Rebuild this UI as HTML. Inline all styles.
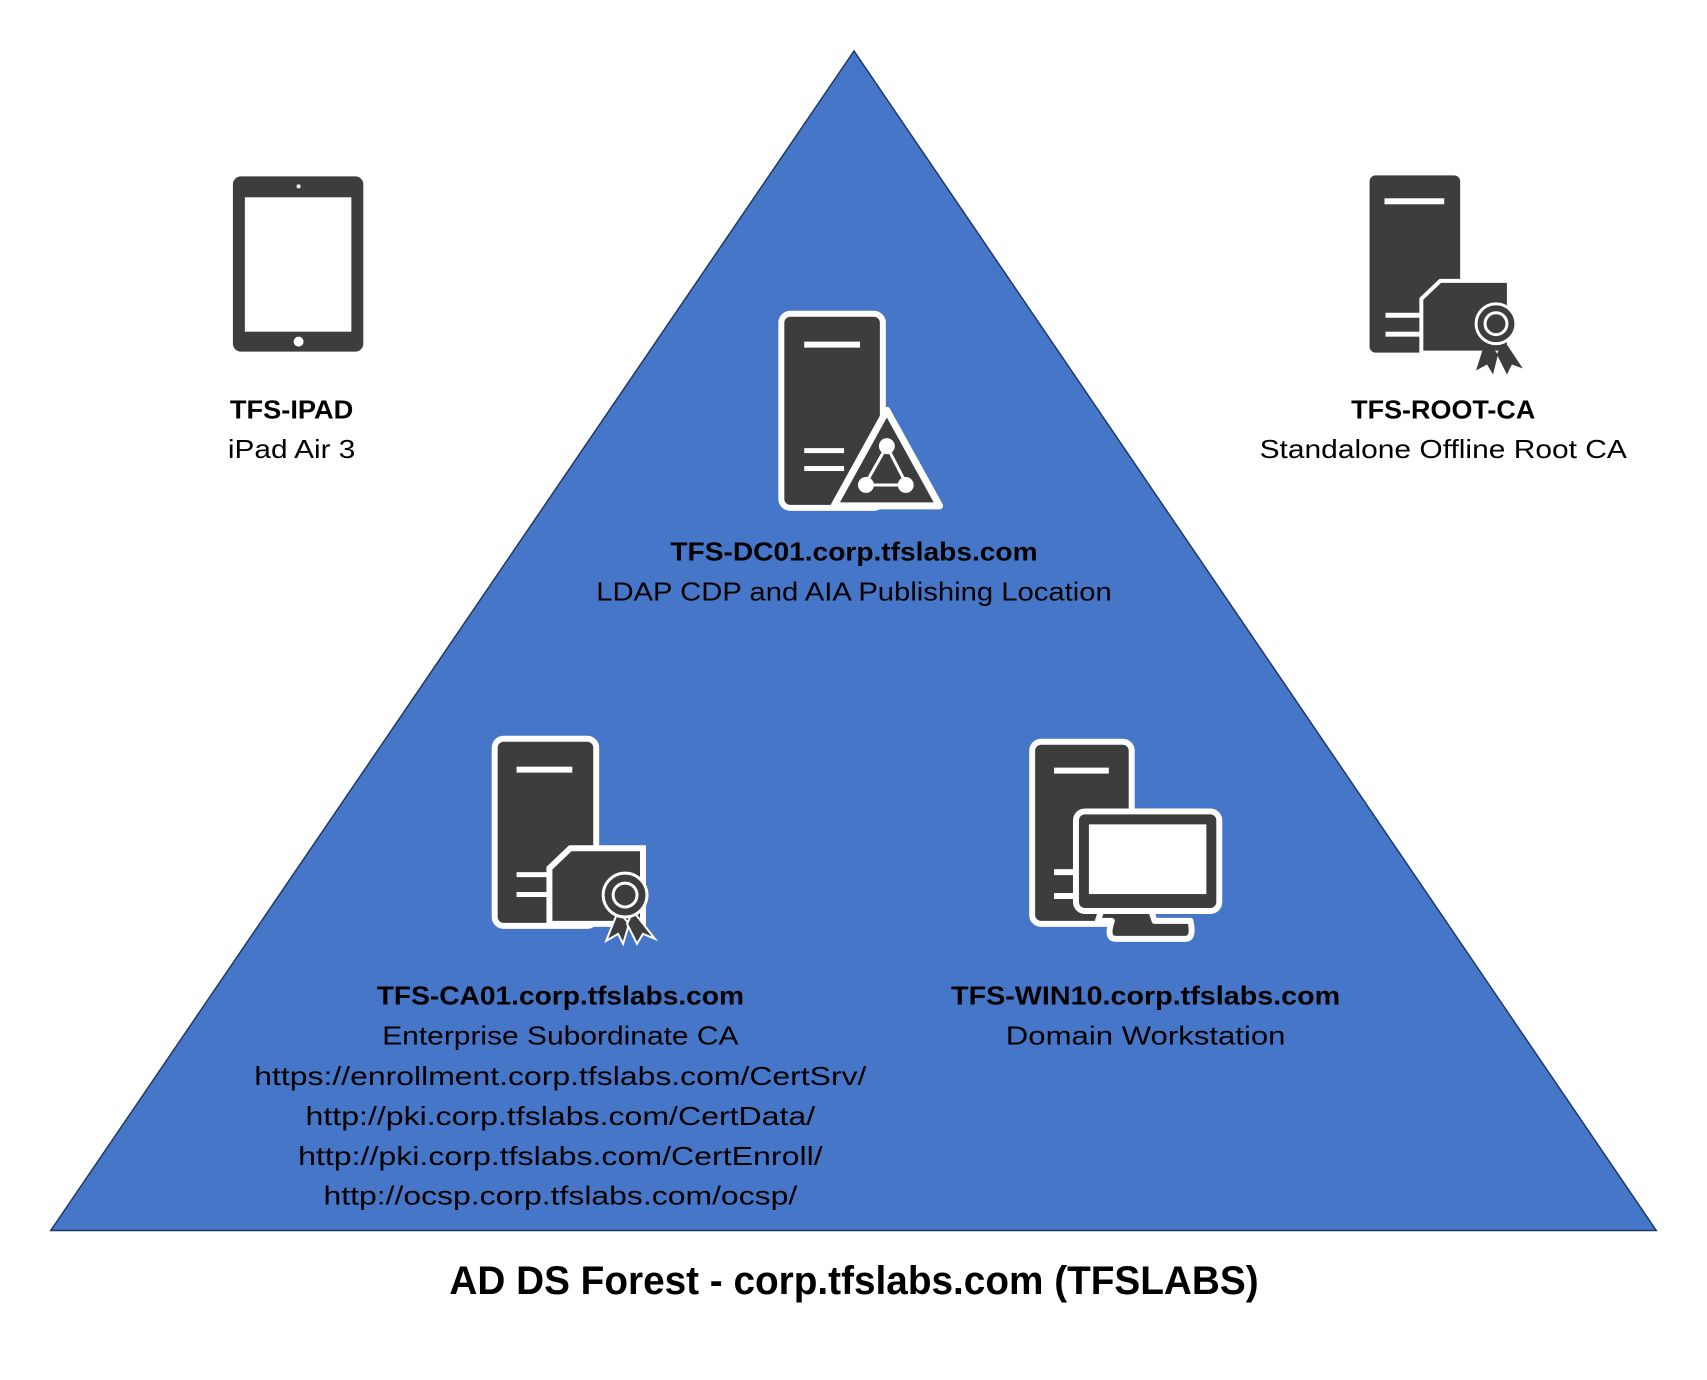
<!DOCTYPE html>
<html><head><meta charset="utf-8"><style>
html,body{margin:0;padding:0;background:#fff;}
svg{display:block;}
text{font-family:"Liberation Sans",sans-serif;fill:#000;}
.b{font-weight:bold;}
</style></head><body>
<svg width="1707" height="1380" viewBox="0 0 1715 1386">
<polygon points="858,51 51,1236 1664,1236" fill="#4676C8" stroke="#1f3864" stroke-width="1.5"/>

<g>
<rect x="234" y="177" width="131" height="176" rx="8" fill="#3d3d3d"/>
<rect x="246" y="198" width="107" height="135" fill="#fff"/>
<circle cx="300" cy="187" r="2" fill="#fff"/>
<circle cx="300" cy="343" r="5" fill="#fff"/>
</g>
<text class="b" x="293" y="420" font-size="26" text-anchor="middle" textLength="124" lengthAdjust="spacingAndGlyphs">TFS-IPAD</text>
<text x="293" y="460" font-size="26" text-anchor="middle" textLength="128" lengthAdjust="spacingAndGlyphs">iPad Air 3</text>

<g>
<rect x="1376" y="176" width="91" height="178" rx="6" fill="#3d3d3d"/>
<rect x="1391" y="199" width="60" height="6" fill="#fff"/>
<polygon points="1447,282 1516,282 1516,354 1428,354 1428,300" fill="#3d3d3d" stroke="#fff" stroke-width="4"/>
<rect x="1392" y="314" width="36" height="5" fill="#fff"/><rect x="1392" y="333" width="36" height="5" fill="#fff"/>
<polygon points="1493,340 1483,372 1494,366 1500,376 1505,356" fill="#3d3d3d"/>
<polygon points="1510,340 1530,370 1519,366 1514,376 1504,356" fill="#3d3d3d"/>
<circle cx="1503" cy="325" r="20" fill="#3d3d3d" stroke="#fff" stroke-width="3"/>
<circle cx="1503" cy="325" r="11" fill="none" stroke="#fff" stroke-width="3"/>
</g>
<text class="b" x="1450" y="420" font-size="26" text-anchor="middle" textLength="185" lengthAdjust="spacingAndGlyphs">TFS-ROOT-CA</text>
<text x="1450" y="460" font-size="26" text-anchor="middle" textLength="369" lengthAdjust="spacingAndGlyphs">Standalone Offline Root CA</text>

<g>
<rect x="785" y="315" width="102" height="195" rx="9" fill="#3d3d3d" stroke="#fff" stroke-width="6"/>
<rect x="808" y="343" width="56" height="6" fill="#fff"/>
<rect x="808" y="450" width="40" height="5" fill="#fff"/><rect x="808" y="468" width="40" height="5" fill="#fff"/>
<polygon points="891,412 944,508 838,508" fill="#3d3d3d" stroke="#fff" stroke-width="7" stroke-linejoin="round"/>
<line x1="891" y1="448" x2="870" y2="485" stroke="#fff" stroke-width="3"/>
<line x1="891" y1="448" x2="910" y2="485" stroke="#fff" stroke-width="3"/>
<line x1="870" y1="487" x2="910" y2="487" stroke="#fff" stroke-width="3"/>
<circle cx="891" cy="448" r="8" fill="#fff"/><circle cx="870" cy="487" r="8" fill="#fff"/><circle cx="910" cy="487" r="8" fill="#fff"/>
</g>
<text class="b" x="858" y="563" font-size="26" text-anchor="middle" textLength="369" lengthAdjust="spacingAndGlyphs">TFS-DC01.corp.tfslabs.com</text>
<text x="858" y="603" font-size="26" text-anchor="middle" textLength="518" lengthAdjust="spacingAndGlyphs">LDAP CDP and AIA Publishing Location</text>

<g>
<rect x="497" y="742" width="102" height="188" rx="9" fill="#3d3d3d" stroke="#fff" stroke-width="6"/>
<rect x="519" y="770" width="56" height="6" fill="#fff"/>
<polygon points="573,852 646,852 646,928 552,928 552,872" fill="#3d3d3d" stroke="#fff" stroke-width="6"/>
<rect x="519" y="876" width="33" height="5" fill="#fff"/><rect x="519" y="896" width="33" height="5" fill="#fff"/>
<polygon points="621,915 609,945 621,938 626,948 632,928" fill="#3d3d3d" stroke="#fff" stroke-width="2"/>
<polygon points="636,915 658,943 646,938 640,948 630,928" fill="#3d3d3d" stroke="#fff" stroke-width="2"/>
<circle cx="628" cy="899" r="22" fill="#3d3d3d" stroke="#fff" stroke-width="3"/>
<circle cx="628" cy="899" r="12" fill="none" stroke="#fff" stroke-width="3"/>
</g>
<text class="b" x="563" y="1009" font-size="26" text-anchor="middle" textLength="369" lengthAdjust="spacingAndGlyphs">TFS-CA01.corp.tfslabs.com</text>
<text x="563" y="1049" font-size="26" text-anchor="middle" textLength="358" lengthAdjust="spacingAndGlyphs">Enterprise Subordinate CA</text>
<text x="563" y="1090" font-size="26" text-anchor="middle" textLength="615" lengthAdjust="spacingAndGlyphs">https://enrollment.corp.tfslabs.com/CertSrv/</text>
<text x="563" y="1130" font-size="26" text-anchor="middle" textLength="512" lengthAdjust="spacingAndGlyphs">http://pki.corp.tfslabs.com/CertData/</text>
<text x="563" y="1170" font-size="26" text-anchor="middle" textLength="527" lengthAdjust="spacingAndGlyphs">http://pki.corp.tfslabs.com/CertEnroll/</text>
<text x="563" y="1210" font-size="26" text-anchor="middle" textLength="476" lengthAdjust="spacingAndGlyphs">http://ocsp.corp.tfslabs.com/ocsp/</text>

<g>
<rect x="1037" y="745" width="100" height="183" rx="9" fill="#3d3d3d" stroke="#fff" stroke-width="6"/>
<rect x="1059" y="771" width="55" height="6" fill="#fff"/>
<rect x="1059" y="873" width="30" height="6" fill="#fff"/><rect x="1059" y="897" width="30" height="6" fill="#fff"/>
<path d="M1107,913 L1103,925 L1117,925 Q1111,943 1121,943 L1191,943 Q1200,943 1196,925 L1160,925 L1156,913 Z" fill="#3d3d3d" stroke="#fff" stroke-width="6" stroke-linejoin="round"/>
<rect x="1081" y="815" width="144" height="100" rx="9" fill="#3d3d3d" stroke="#fff" stroke-width="6"/>
<rect x="1094" y="828" width="118" height="70" fill="#fff"/>
</g>
<text class="b" x="1151" y="1009" font-size="26" text-anchor="middle" textLength="391" lengthAdjust="spacingAndGlyphs">TFS-WIN10.corp.tfslabs.com</text>
<text x="1151" y="1049" font-size="26" text-anchor="middle" textLength="281" lengthAdjust="spacingAndGlyphs">Domain Workstation</text>

<text class="b" x="858" y="1300" font-size="40" text-anchor="middle" textLength="813" lengthAdjust="spacingAndGlyphs">AD DS Forest - corp.tfslabs.com (TFSLABS)</text>
</svg>
</body></html>
